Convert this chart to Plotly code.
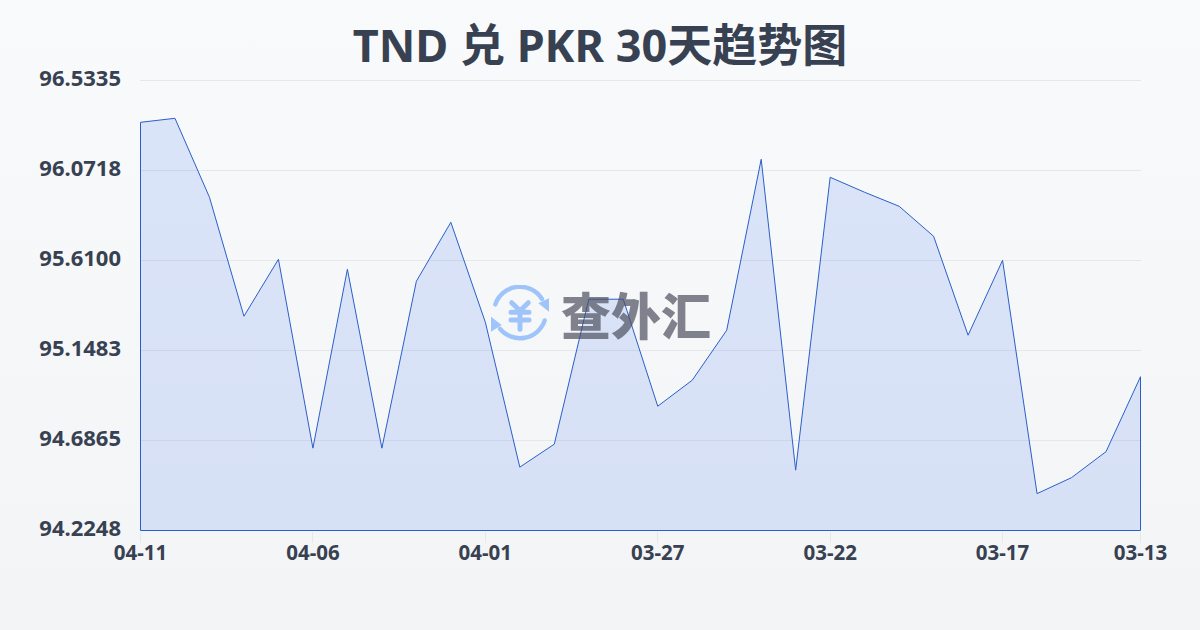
import base64
import plotly.graph_objects as go

dates = ["04-11","04-10","04-09","04-08","04-07","04-06","04-05","04-04","04-03","04-02",
         "04-01","03-31","03-30","03-29","03-28","03-27","03-26","03-25","03-24","03-23",
         "03-22","03-21","03-20","03-19","03-18","03-17","03-16","03-15","03-14","03-13"]
rates = [96.3190,96.3395,95.9344,95.3241,95.6164,94.6472,95.5651,94.6472,95.5036,95.8061,
         95.2934,94.5498,94.6677,95.4113,95.4113,94.8625,94.9958,95.2524,96.1293,94.5344,
         96.0370,95.9600,95.8882,95.7344,95.2267,95.6113,94.4139,94.4960,94.6293,95.0139]
y_ticks = [94.2248,94.6865,95.1483,95.6100,96.0718,96.5335]
y_labels = ["94.2248","94.6865","95.1483","95.6100","96.0718","96.5335"]
x_ticks = ["04-11","04-06","04-01","03-27","03-22","03-17","03-13"]
title = "TND 兑 PKR 30天趋势图"
watermark = "查外汇"

INK = "#374151"
GRID = "#e5e7eb"
FONT = "Noto Sans, Noto Sans CJK SC, sans-serif"

icon = """<svg xmlns='http://www.w3.org/2000/svg' viewBox='0 0 60 60'>
<g fill='none' stroke='#9fc4fa' stroke-width='4.4' stroke-linecap='round' stroke-linejoin='round'>
<path d='M5.3 19.4 A26 26 0 0 1 52 14'/>
<path d='M54.7 35.4 A26 26 0 0 1 10 43.8'/>
<path stroke-width='5' d='M21.7 17.7 L30 25.7 L38.3 17.7 M21 27.3 H39 M21 35 H39 M30 25.7 V44.3'/>
</g>
<path d='M59 13.3 L59 26.7 L48.3 18.3 Z' fill='#9fc4fa'/>
<path d='M1 31.7 L1 46.7 L11.7 40 Z' fill='#9fc4fa'/>
</svg>"""
icon_uri = "data:image/svg+xml;base64," + base64.b64encode(icon.encode()).decode()

base = y_ticks[0]
# half a pixel of headroom on each side so the edge lines sit on whole pixel rows
half_x = 0.5 * 29 / 1000
half_y = 0.5 * (y_ticks[-1] - y_ticks[0]) / 450
fig = go.Figure(go.Scatter(
    x=dates + [dates[-1], dates[0], dates[0]],
    y=rates + [base, base, rates[0]],
    mode="lines",
    fill="toself",
    fillgradient=dict(type="vertical",
                      colorscale=[[0, "rgba(37,99,235,0.14)"], [1, "rgba(37,99,235,0.14)"]]),
    line=dict(color="#2a5fc9", width=1),
    hoverinfo="skip",
    showlegend=False,
))
fig.update_layout(
    width=1200, height=630,
    margin=dict(l=140, r=59, t=80, b=99),
    paper_bgcolor="rgba(0,0,0,0)",
    plot_bgcolor="rgba(0,0,0,0)",
    font=dict(family=FONT, color=INK),
    title=dict(text=f"<b>{title}</b>", x=0.5, xanchor="center", y=0.927, yanchor="middle",
               font=dict(size=45, color=INK, family=FONT)),
    xaxis=dict(type="category", categoryorder="array", categoryarray=dates,
               range=[-half_x, 29 + half_x],
               tickmode="array", tickvals=x_ticks, ticktext=[f"<b>{t}</b>" for t in x_ticks],
               showgrid=False, zeroline=False, showline=False,
               ticks="outside", ticklen=11, tickwidth=1, tickcolor=GRID,
               ticklabelstandoff=-8,
               tickfont=dict(size=20.5, color=INK, family=FONT)),
    yaxis=dict(range=[y_ticks[0] - half_y, y_ticks[-1] + half_y],
               tickmode="array", tickvals=y_ticks, ticktext=[f"<b>{t}</b>" for t in y_labels],
               showgrid=True, gridcolor=GRID, gridwidth=1, zeroline=False, showline=False,
               ticks="", ticklabelstandoff=18, ticklabelshift=-2,
               tickfont=dict(size=22, color=INK, family=FONT)),
    shapes=[dict(type="line", xref="paper", x0=0, x1=1, yref="y",
                 y0=y_ticks[-1], y1=y_ticks[-1], layer="below",
                 line=dict(color=GRID, width=1))],
    images=[dict(source=icon_uri, xref="paper", yref="paper", x=(490-140)/1001,
                 y=(531-285)/451, sizex=60/1001, sizey=60/451, xanchor="left", yanchor="top",
                 layer="above", sizing="stretch")],
    annotations=[dict(text=watermark, xref="paper", yref="paper",
                      x=(636-140)/1001, y=(531-316)/451, showarrow=False,
                      xanchor="center", yanchor="middle", opacity=0.7,
                      font=dict(size=50, color="#4d5260", family=FONT, weight=900))],
)
post = """
document.documentElement.style.margin='0';
document.body.style.margin='0';
document.documentElement.style.height='100%';
document.body.style.minHeight='630px';
document.body.style.background='linear-gradient(180deg,#f9fafb 0%,#f3f4f6 100%)';
"""
fig.write_html("out.html", post_script=post, config={"displayModeBar": False})
